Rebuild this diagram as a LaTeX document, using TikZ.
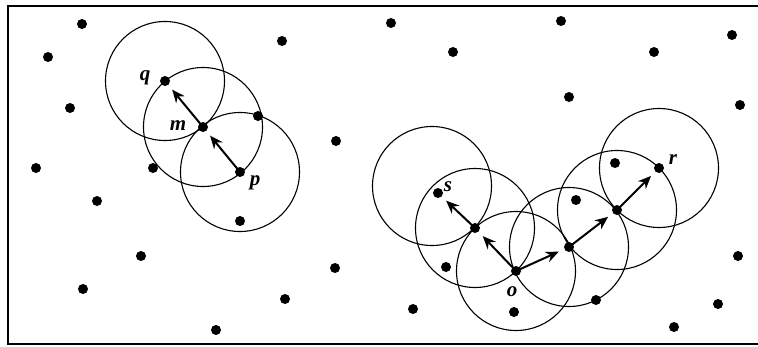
\documentclass[tikz,border=0pt]{standalone}
\usepackage{fontspec}
\setmainfont{Liberation Serif}
\usetikzlibrary{arrows.meta}
\tikzset{
  dot/.style={circle,fill=black,inner sep=0pt,minimum size=10pt},
  lab/.style={font=\fontsize{21}{21}\selectfont\bfseries\itshape,inner sep=0pt},
  ring/.style={line width=1.1pt},
  hop/.style={line width=2pt,-{Stealth[length=13pt,width=11pt]},shorten >=6pt},
  frame/.style={line width=2.6pt}
}
\begin{document}
\begin{tikzpicture}[x=1pt,y=-1pt]
\useasboundingbox (0,0) rectangle (758,346);
\fill[white] (0,0) rectangle (758,346);
\draw[frame] (758,6) -- (8,6) -- (8,344) -- (758,344);
% left group
\node[dot] (q) at (165,81) {};
\node[dot] (m) at (203,127) {};
\node[dot] (p) at (240,172) {};
% right group
\node[dot] (s) at (438,193) {};
\node[dot] (n1) at (475,228) {};
\node[dot] (o) at (516,271) {};
\node[dot] (n2) at (569,247) {};
\node[dot] (n3) at (617,210) {};
\node[dot] (r) at (659,168) {};
% circles
\foreach \c in {q,m,p,n1,o,n2,n3,r}
  \draw[ring] (\c.center) circle[radius=59.5pt];
\coordinate (sc) at (432,186);
\draw[ring] (sc) circle[radius=59.5pt];
% other dots
\node[dot] (d1) at (82,24) {};
\node[dot] (d2) at (48,57) {};
\node[dot] (d3) at (70,108) {};
\node[dot] (d4) at (36,168) {};
\node[dot] (d5) at (97,201) {};
\node[dot] (d6) at (141,256) {};
\node[dot] (d7) at (83,289) {};
\node[dot] (d8) at (216,330) {};
\node[dot] (d9) at (285,299) {};
\node[dot] (d10) at (335,268) {};
\node[dot] (d11) at (336,141) {};
\node[dot] (d12) at (282,41) {};
\node[dot] (d13) at (258,116) {};
\node[dot] (d14) at (153,168) {};
\node[dot] (d15) at (240,221) {};
\node[dot] (d16) at (391,23) {};
\node[dot] (d17) at (561,21) {};
\node[dot] (d18) at (732,35) {};
\node[dot] (d19) at (453,52) {};
\node[dot] (d20) at (654,52) {};
\node[dot] (d21) at (569,97) {};
\node[dot] (d22) at (740,105) {};
\node[dot] (d23) at (615,163) {};
\node[dot] (d24) at (576,200) {};
\node[dot] (d25) at (446,267) {};
\node[dot] (d26) at (413,309) {};
\node[dot] (d27) at (514,312) {};
\node[dot] (d28) at (596,300) {};
\node[dot] (d29) at (738,256) {};
\node[dot] (d30) at (718,304) {};
\node[dot] (d31) at (674,327) {};
% arrows
\draw[hop] (m.center) -- (q);
\draw[hop] (p.center) -- (m);
\draw[hop] (n1.center) -- (s);
\draw[hop] (o.center) -- (n1);
\draw[hop] (o.center) -- (n2);
\draw[hop] (n2.center) -- (n3);
\draw[hop] (n3.center) -- (r);
% labels
\node[lab] (lq) at (145,78) {q};
\node[lab] (lm) at (178,126) {m};
\node[lab] (lp) at (255,183) {p};
\node[lab] (ls) at (448,187) {s};
\node[lab] (lo) at (512,292) {o};
\node[lab] (lr) at (673,160) {r};
\end{tikzpicture}
\end{document}
